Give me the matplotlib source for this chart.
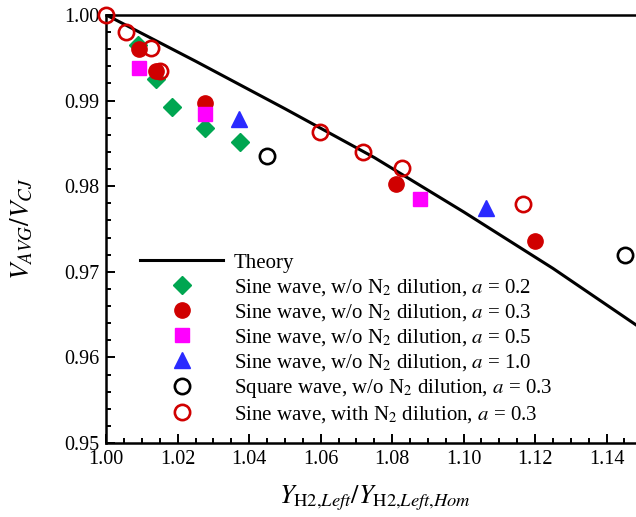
import matplotlib
matplotlib.use('Agg')
import matplotlib.pyplot as plt

plt.rcParams['font.family'] = ['Liberation Serif', 'DejaVu Serif']
plt.rcParams['mathtext.fontset'] = 'stix'

# theory curve
theory_x = [1.000, 1.025, 1.050, 1.075, 1.100, 1.125, 1.150]
theory_y = [1.0000, 0.9946, 0.98905, 0.98335, 0.97700, 0.97040, 0.96330]

# sine wave, w/o N2, a = 0.2
sine02_x = [1.0088, 1.0138, 1.0183, 1.0276, 1.0374]
sine02_y = [0.9965, 0.9925, 0.9893, 0.9868, 0.9852]

# sine wave, w/o N2, a = 0.3
sine03_x = [1.0092, 1.0138, 1.0276, 1.0810, 1.1199]
sine03_y = [0.9960, 0.9935, 0.98975, 0.98026, 0.97363]

# sine wave, w/o N2, a = 0.5
sine05_x = [1.0091, 1.0276, 1.0879]
sine05_y = [0.99377, 0.98840, 0.97850]

# sine wave, w/o N2, a = 1.0
sine10_x = [1.0371, 1.1064]
sine10_y = [0.98785, 0.97742]

# square wave, w/o N2, a = 0.3
square03_x = [1.0451, 1.1453]
square03_y = [0.98356, 0.97196]

# sine wave, with N2, a = 0.3
sineN2_x = [1.0000, 1.0054, 1.0125, 1.0150, 1.0598, 1.0719, 1.0828, 1.1165]
sineN2_y = [1.0000, 0.99805, 0.99610, 0.99350, 0.98637, 0.98396, 0.98209, 0.97789]

W, H = 636, 517
fig = plt.figure(figsize=(W / 100, H / 100), dpi=100)
x0, x1, yt, yb = 106.3, 636, 15, 443
ax = fig.add_axes([x0 / W, 1 - yb / H, (x1 - x0) / W, (yb - yt) / H])

ax.plot(theory_x, theory_y, color='black', lw=2.2, label='Theory', zorder=2)
ax.plot(sine02_x, sine02_y, ls='none', marker='D', ms=9.5, color='#00A651',
        mec='#00A651', label='Sine wave, w/o N$_2$ dilution, $a$ = 0.2', clip_on=False, zorder=3)
ax.plot(sine03_x, sine03_y, ls='none', marker='o', ms=11, color='#D00000',
        label='Sine wave, w/o N$_2$ dilution, $a$ = 0.3', clip_on=False, zorder=3)
ax.plot(sine05_x, sine05_y, ls='none', marker='s', ms=10, color='#FF00FF',
        label='Sine wave, w/o N$_2$ dilution, $a$ = 0.5', clip_on=False, zorder=3)
ax.plot(sine10_x, sine10_y, ls='none', marker='^', ms=11, color='#2A2AFF',
        label='Sine wave, w/o N$_2$ dilution, $a$ = 1.0', clip_on=False, zorder=3)
ax.plot(square03_x, square03_y, ls='none', marker='o', ms=11, mfc='none', mec='black',
        mew=1.9, label='Square wave, w/o N$_2$ dilution, $a$ = 0.3', clip_on=False, zorder=3)
ax.plot(sineN2_x, sineN2_y, ls='none', marker='o', ms=11, mfc='none', mec='#D00000',
        mew=1.9, label='Sine wave, with N$_2$ dilution, $a$ = 0.3', clip_on=False, zorder=4)

ax.set_xlim(1.0, 1.0 + (x1 - x0) / 3573)
ax.set_ylim(0.95, 1.0)
ax.set_xticks([1.00, 1.02, 1.04, 1.06, 1.08, 1.10, 1.12, 1.14])
ax.set_xticks([1.0 + 0.005 * i for i in range(30)], minor=True)
ax.set_yticks([0.95, 0.96, 0.97, 0.98, 0.99, 1.00])
ax.set_yticks([0.95 + 0.002 * i for i in range(26)], minor=True)
ax.xaxis.set_major_formatter(matplotlib.ticker.FormatStrFormatter('%.2f'))
ax.yaxis.set_major_formatter(matplotlib.ticker.FormatStrFormatter('%.2f'))
ax.tick_params(which='both', direction='in', top=False, right=False, labelsize=14.5, width=1.4)
ax.tick_params(which='major', length=6.5, pad=5)
ax.tick_params(which='minor', length=3.5)

ax.spines['right'].set_visible(False)
for s in ['left', 'bottom', 'top']:
    ax.spines[s].set_linewidth(1.8)

ax.set_xlabel(r'$Y_{\mathrm{H2}{,}Left}/Y_{\mathrm{H2}{,}Left{,}Hom}$', fontsize=19, labelpad=6)
ax.xaxis.set_label_coords(0.507, -0.095)
ax.set_ylabel(r'$V_{AVG}/V_{CJ}$', fontsize=19.5, labelpad=21)

ax.legend(loc='upper left', bbox_to_anchor=(140 / W, 1 - 253 / H),
          bbox_transform=fig.transFigure, frameon=False, fontsize=15,
          handlelength=4.0, handletextpad=0.5, labelspacing=0.2, borderpad=0,
          borderaxespad=0, numpoints=1)

fig.savefig('out.png', dpi=100)
